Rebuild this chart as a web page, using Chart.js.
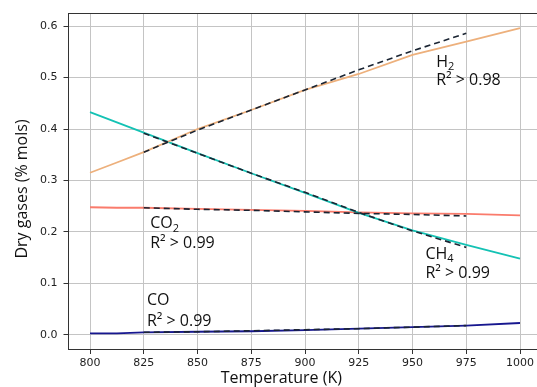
<!DOCTYPE html>
<html>
<head>
<meta charset="utf-8">
<script src="https://cdn.jsdelivr.net/npm/chart.js@4.4.1/dist/chart.umd.min.js"></script>
<style>
html,body{margin:0;padding:0;background:#fff;overflow:hidden;width:537px;height:387px;}
canvas{display:block;}
</style>
</head>
<body>
<canvas id="c" width="560" height="387" style="width:560px;height:387px"></canvas>
<script>
// ---- data ----
const temperatures = [800, 812.5, 825, 850, 875, 900, 925, 950, 975, 1000];
const h2  = [0.315, 0.335, 0.355, 0.400, 0.437, 0.476, 0.507, 0.544, 0.570, 0.596];
const ch4 = [0.433, 0.413, 0.393, 0.353, 0.314, 0.276, 0.237, 0.203, 0.175, 0.148];
const co2 = [0.248, 0.247, 0.247, 0.245, 0.243, 0.241, 0.238, 0.236, 0.235, 0.232];
const co  = [0.003, 0.003, 0.005, 0.006, 0.007, 0.009, 0.012, 0.015, 0.018, 0.023];

const fitTemps = [825, 850, 875, 900, 925, 950, 975];
const h2Fit  = [0.355, 0.398, 0.437, 0.476, 0.515, 0.552, 0.586];
const ch4Fit = [0.392, 0.353, 0.314, 0.277, 0.238, 0.202, 0.170];
const co2Fit = [0.247, 0.244, 0.242, 0.239, 0.236, 0.234, 0.231];
const coFit  = [0.005, 0.006, 0.008, 0.010, 0.012, 0.015, 0.018];

const xTicks = [800, 825, 850, 875, 900, 925, 950, 975, 1000];
const yTicks = [0.0, 0.1, 0.2, 0.3, 0.4, 0.5, 0.6];

const xLabel = 'Temperature (K)';
const yLabel = 'Dry gases (% mols)';

const annotations = [
  {main:'H', sub:'2', r2:'R² > 0.98', x:961, y1:0.530, y2:0.495},
  {main:'CO', sub:'2', r2:'R² > 0.99', x:828, y1:0.216, y2:0.177},
  {main:'CH', sub:'4', r2:'R² > 0.99', x:956, y1:0.157, y2:0.120},
  {main:'CO', sub:'', r2:'R² > 0.99', x:826.5, y1:0.066, y2:0.027}
];

const pts = (xs, ys) => xs.map((x, i) => ({x, y: ys[i]}));
const fitColor = '#1b2533';

const datasets = [
  {data: pts(fitTemps, h2Fit),  borderColor: fitColor, borderDash:[6,4], borderWidth:1.6, order:0},
  {data: pts(fitTemps, ch4Fit), borderColor: fitColor, borderDash:[6,4], borderWidth:1.6, order:0},
  {data: pts(fitTemps, co2Fit), borderColor: fitColor, borderDash:[6,4], borderWidth:1.6, order:0},
  {data: pts(fitTemps, coFit),  borderColor: fitColor, borderDash:[6,4], borderWidth:1.6, order:0},
  {data: pts(temperatures, h2),  borderColor:'#EDB07C', borderWidth:1.8, order:1},
  {data: pts(temperatures, ch4), borderColor:'#14C2B4', borderWidth:1.8, order:1},
  {data: pts(temperatures, co2), borderColor:'#FA7B6C', borderWidth:1.8, order:1},
  {data: pts(temperatures, co),  borderColor:'#17178F', borderWidth:1.8, order:1}
];

const frame = {
  id:'frame',
  afterDatasetsDraw(chart){
    const {ctx, chartArea:a, scales:{x, y}} = chart;
    ctx.save();
    ctx.strokeStyle = '#333';
    ctx.lineWidth = 1;
    ctx.beginPath();
    ctx.moveTo(a.left, a.top + 0.5);
    ctx.lineTo(a.right, a.top + 0.5);
    ctx.stroke();
    ctx.fillStyle = '#111';
    const big = '16px "Open Sans", sans-serif';
    const small = '11px "Open Sans", sans-serif';
    ctx.textBaseline = 'middle';
    ctx.textAlign = 'left';
    annotations.forEach(an => {
      const px = x.getPixelForValue(an.x);
      const p1 = y.getPixelForValue(an.y1);
      const p2 = y.getPixelForValue(an.y2);
      ctx.font = big;
      ctx.fillText(an.main, px, p1);
      if (an.sub) {
        const w = ctx.measureText(an.main).width;
        ctx.font = small;
        ctx.fillText(an.sub, px + w, p1 + 5);
      }
      ctx.font = big;
      ctx.fillText(an.r2, px, p2);
    });
    ctx.font = '16px "Open Sans", sans-serif';
    ctx.textAlign = 'center';
    ctx.fillText(xLabel, x.getPixelForValue(889), 378);
    ctx.save();
    ctx.translate(22, (a.top + a.bottom) / 2 + 8);
    ctx.rotate(-Math.PI / 2);
    ctx.fillText(yLabel, 0, 0);
    ctx.restore();
    ctx.restore();
  }
};

new Chart(document.getElementById('c'), {
  type: 'line',
  data: {datasets},
  options: {
    responsive: false,
    animation: false,
    devicePixelRatio: 1,
    layout: {padding: {left: 0, top: 13, right: 18.5, bottom: 0}},
    elements: {point: {radius: 0}, line: {tension: 0, fill: false}},
    plugins: {legend: {display: false}, tooltip: {enabled: false}},
    scales: {
      x: {
        type: 'linear', min: 790, max: 1010,
        afterBuildTicks: s => { s.ticks = xTicks.map(v => ({value: v})); },
        afterFit: s => { s.height = 38; },
        grid: {color: '#c4c4c4', lineWidth: 1, tickColor: '#333', tickLength: 5},
        border: {color: '#333', width: 1},
        ticks: {font: {family: 'DejaVu Sans', size: 11}, color: '#222', padding: 3, maxRotation: 0,
                callback: v => String(v)}
      },
      y: {
        type: 'linear', min: -0.0275, max: 0.6255,
        afterBuildTicks: s => { s.ticks = yTicks.map(v => ({value: v})); },
        afterFit: s => { s.width = 68.5; },
        grid: {color: '#c4c4c4', lineWidth: 1, tickColor: '#333', tickLength: 5},
        border: {color: '#333', width: 1},
        ticks: {font: {family: 'DejaVu Sans', size: 11}, color: '#222', padding: 6,
                callback: v => Number(v).toFixed(1)}
      }
    }
  },
  plugins: [frame]
});
</script>
</body>
</html>
